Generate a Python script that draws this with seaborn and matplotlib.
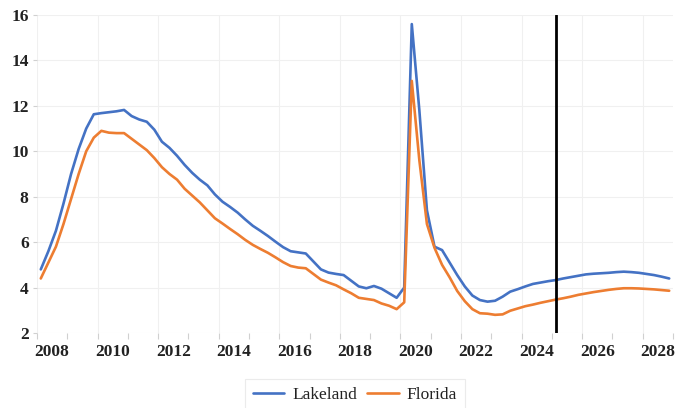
import matplotlib
matplotlib.use("Agg")
import matplotlib.pyplot as plt
import seaborn as sns
import pandas as pd
import numpy as np

# Quarterly unemployment rate (%), 2008Q1 - 2028Q4
quarters = pd.period_range("2008Q1", "2028Q4", freq="Q")

lakeland = [
    4.8, 5.6, 6.5, 7.7, 9.0, 10.1, 11.0, 11.63,
    11.68, 11.72, 11.76, 11.82, 11.55, 11.40, 11.30, 10.95,
    10.42, 10.15, 9.80, 9.40, 9.05, 8.75, 8.50, 8.10,
    7.78, 7.55, 7.30, 7.00, 6.72, 6.50, 6.27, 6.02,
    5.78, 5.60, 5.55, 5.50, 5.15, 4.80, 4.66, 4.60,
    4.55, 4.30, 4.05, 3.97, 4.07, 3.95, 3.75, 3.55,
    4.00, 15.6, 11.8, 7.4, 5.8, 5.65, 5.1, 4.55,
    4.05, 3.65, 3.45, 3.38, 3.42, 3.60, 3.82, 3.93,
    4.05, 4.16, 4.22, 4.28, 4.33, 4.40, 4.46, 4.52,
    4.58, 4.61, 4.63, 4.65, 4.68, 4.70, 4.68, 4.65,
    4.60, 4.55, 4.48, 4.40,
]

florida = [
    4.4, 5.1, 5.8, 6.8, 7.9, 9.0, 10.0, 10.6,
    10.9, 10.82, 10.80, 10.80, 10.55, 10.30, 10.05, 9.70,
    9.30, 9.00, 8.75, 8.35, 8.05, 7.75, 7.40, 7.05,
    6.82, 6.58, 6.35, 6.10, 5.88, 5.70, 5.53, 5.33,
    5.12, 4.95, 4.88, 4.85, 4.60, 4.35, 4.22, 4.10,
    3.92, 3.75, 3.55, 3.50, 3.45, 3.30, 3.20, 3.05,
    3.35, 13.1, 9.6, 6.8, 5.75, 5.0, 4.45, 3.85,
    3.40, 3.05, 2.87, 2.85, 2.80, 2.82, 2.98, 3.08,
    3.18, 3.25, 3.33, 3.40, 3.47, 3.53, 3.60, 3.68,
    3.74, 3.80, 3.85, 3.90, 3.94, 3.97, 3.97, 3.96,
    3.94, 3.92, 3.89, 3.86,
]

forecast_start = pd.Period("2025Q1", freq="Q")
year_labels = list(range(2008, 2029, 2))
y_ticks = [2, 4, 6, 8, 10, 12, 14, 16]


def quarter_pos(p):
    # each year occupies [year, year+1); a quarter sits in the middle of its slot
    return p.year + (p.quarter - 0.5) / 4


x = [quarter_pos(p) for p in quarters]
df = pd.DataFrame({
    "t": x * 2,
    "rate": lakeland + florida,
    "area": ["Lakeland"] * len(x) + ["Florida"] * len(x),
})

sns.set_theme(style="white")
plt.rcParams["font.family"] = ["Liberation Serif", "DejaVu Serif"]

fig = plt.figure(figsize=(6.78, 4.08), dpi=100)
ax = fig.add_axes([37 / 678, 1 - 333 / 408, (673 - 37) / 678, (333 - 15) / 408])

first_year = quarters[0].year
last_year = quarters[-1].year + 1

# faint grid
for yv in y_ticks:
    ax.axhline(yv, color="#f0f0f0", lw=0.8, zorder=0)
for yr in range(first_year, last_year + 1, 2):
    ax.axvline(yr, color="#f0f0f0", lw=0.8, zorder=0)

sns.lineplot(
    data=df, x="t", y="rate", hue="area",
    palette={"Lakeland": "#4472C4", "Florida": "#ED7D31"},
    linewidth=1.9, ax=ax, legend=False,
)

ax.axvline(quarter_pos(forecast_start), color="black", lw=2.0, zorder=5)

ax.set_xlim(first_year, last_year)
ax.set_ylim(min(y_ticks), max(y_ticks))
ax.set_xlabel("")
ax.set_ylabel("")

# year labels centred in their year slot, tick marks at year boundaries
ax.set_xticks([y + 0.5 for y in year_labels])
ax.set_xticklabels([str(y) for y in year_labels])
ax.set_xticks(range(first_year, last_year + 1), minor=True)
ax.tick_params(axis="x", which="major", length=0, pad=8, labelsize=12.5, colors="#222222")
ax.tick_params(axis="x", which="minor", length=4, width=0.8, color="#d0d0d0", bottom=True)
ax.set_yticks(y_ticks)
ax.set_yticklabels([str(v) for v in y_ticks])
ax.tick_params(axis="y", length=3, width=0.8, color="#d0d0d0", left=True, pad=3,
               labelsize=12.5, labelcolor="#222222")
for lab in ax.get_xticklabels() + ax.get_yticklabels():
    lab.set_fontweight("bold")

for s in ax.spines.values():
    s.set_visible(False)

handles = [
    plt.Line2D([], [], color="#4472C4", lw=1.9),
    plt.Line2D([], [], color="#ED7D31", lw=1.9),
]
leg = fig.legend(
    handles, ["Lakeland", "Florida"], loc="center", ncol=2,
    bbox_to_anchor=(355 / 678, 1 - 395 / 408), frameon=True,
    fontsize=12.5, handlelength=1.8, columnspacing=0.6, handletextpad=0.45,
    borderpad=0.45, borderaxespad=0, fancybox=False,
)
leg.get_frame().set_edgecolor("#e6e6e6")
leg.get_frame().set_linewidth(0.8)
for t in leg.get_texts():
    t.set_color("#222222")

fig.savefig("out.png", dpi=100)
